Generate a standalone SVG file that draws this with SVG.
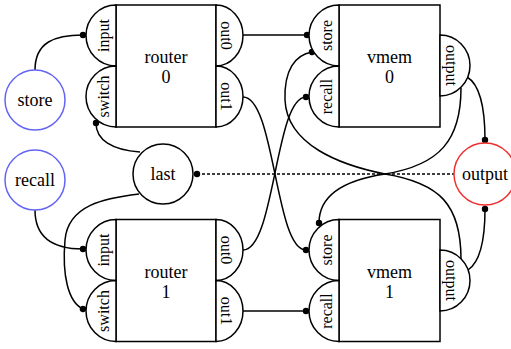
<svg xmlns="http://www.w3.org/2000/svg" width="511" height="349" viewBox="0 0 511 349">
<defs>
<style>
text{font-family:"Liberation Serif","DejaVu Serif",serif;fill:#000;text-anchor:middle}
.lbl{font-size:18px}
.plbl{font-size:16px}
.box{fill:#fff;stroke:#000;stroke-width:1.5}
.port{fill:#fff;stroke:#000;stroke-width:1.5}
.edge{fill:none;stroke:#000;stroke-width:1.5;marker-end:url(#dot)}
.dash{fill:none;stroke:#000;stroke-width:1.5;stroke-dasharray:3,2}
.in{fill:#fff;stroke:#6464f5;stroke-width:1.5}
.out{fill:#fff;stroke:#f03030;stroke-width:1.5}
.plain{fill:#fff;stroke:#000;stroke-width:1.5}
</style>
<marker id="dot" viewBox="-4 -4 8 8" markerWidth="8" markerHeight="8" markerUnits="userSpaceOnUse" refX="0" refY="0" orient="auto">
<circle cx="0" cy="0" r="3.2" fill="#000"/>
</marker>
</defs>
<rect width="511" height="349" fill="#fff"/>

<g id="connectors">
<path class="edge" d="M35,70 C35,42 55,35 83,35"/>
<path class="edge" d="M243,35 L307,35"/>
<path class="edge" d="M243,97 C275,97 275,250 306,250"/>
<path class="edge" d="M243,250 C275,250 275,97 306,97"/>
<path class="edge" d="M243,311 L306,311"/>
<path class="edge" d="M467,77 C479,84 485,105 485,140"/>
<path class="edge" d="M468,270 C480,262 485,240 485,209"/>
<path class="edge" d="M461,88 C461,140 440,165 385,174 C345,180 319,195 319,223"/>
<path class="edge" d="M461,259 C461,205 440,183 385,174 C340,165 287,145 285,100 C284,70 295,55 312,52"/>
<path class="edge" d="M140,152 C112,150 96,140 96,123"/>
<path class="edge" d="M35,210 C35,235 50,249 83,249"/>
<path class="edge" d="M139,194 C105,198 68,205 65,240 C62,275 68,302 83,309"/>
<path class="dash" d="M197,174 L454,174"/>
<circle cx="197" cy="174" r="3.2" fill="#000"/>
</g>

<g id="router0">
<rect class="box" x="116" y="5" width="100" height="122"/>
<path class="port" d="M116,5 A30,30.5 0 0 0 116,66 Z"/>
<path class="port" d="M116,66 A30,30.5 0 0 0 116,127 Z"/>
<path class="port" d="M216,5 A27,30.5 0 0 1 216,66 Z"/>
<path class="port" d="M216,66 A27,30.5 0 0 1 216,127 Z"/>
<text class="plbl" transform="translate(109,35.5) rotate(-90)">input</text>
<text class="plbl" transform="translate(109,96.5) rotate(-90)">switch</text>
<text class="plbl" transform="translate(221,35.5) rotate(90)">out0</text>
<text class="plbl" transform="translate(221,96.5) rotate(90)">out1</text>
<text class="lbl" x="166" y="63">router</text>
<text class="lbl" x="166" y="83">0</text>
</g>

<g id="router1">
<rect class="box" x="116" y="219.5" width="100" height="122"/>
<path class="port" d="M116,219.5 A30,30.5 0 0 0 116,280.5 Z"/>
<path class="port" d="M116,280.5 A30,30.5 0 0 0 116,341.5 Z"/>
<path class="port" d="M216,219.5 A27,30.5 0 0 1 216,280.5 Z"/>
<path class="port" d="M216,280.5 A27,30.5 0 0 1 216,341.5 Z"/>
<text class="plbl" transform="translate(109,250) rotate(-90)">input</text>
<text class="plbl" transform="translate(109,311) rotate(-90)">switch</text>
<text class="plbl" transform="translate(221,250) rotate(90)">out0</text>
<text class="plbl" transform="translate(221,311) rotate(90)">out1</text>
<text class="lbl" x="166" y="277.5">router</text>
<text class="lbl" x="166" y="297.5">1</text>
</g>

<g id="vmem0">
<rect class="box" x="339" y="5" width="101" height="122"/>
<path class="port" d="M339,5 A30,30.5 0 0 0 339,66 Z"/>
<path class="port" d="M339,66 A30,30.5 0 0 0 339,127 Z"/>
<path class="port" d="M440,35 A30,30.5 0 0 1 440,96 Z"/>
<text class="plbl" transform="translate(332,35.5) rotate(-90)">store</text>
<text class="plbl" transform="translate(332,96.5) rotate(-90)">recall</text>
<text class="plbl" transform="translate(446,65.5) rotate(90)">output</text>
<text class="lbl" x="389.5" y="63">vmem</text>
<text class="lbl" x="389.5" y="83">0</text>
</g>

<g id="vmem1">
<rect class="box" x="339" y="219.5" width="101" height="122"/>
<path class="port" d="M339,219.5 A30,30.5 0 0 0 339,280.5 Z"/>
<path class="port" d="M339,280.5 A30,30.5 0 0 0 339,341.5 Z"/>
<path class="port" d="M440,250 A30,30.5 0 0 1 440,311 Z"/>
<text class="plbl" transform="translate(332,250) rotate(-90)">store</text>
<text class="plbl" transform="translate(332,311) rotate(-90)">recall</text>
<text class="plbl" transform="translate(446,280.5) rotate(90)">output</text>
<text class="lbl" x="389.5" y="277.5">vmem</text>
<text class="lbl" x="389.5" y="297.5">1</text>
</g>

<g id="store">
<circle class="in" cx="35" cy="100" r="30"/>
<text class="lbl" x="35" y="106">store</text>
</g>
<g id="recall">
<circle class="in" cx="35" cy="180" r="30"/>
<text class="lbl" x="35" y="186">recall</text>
</g>
<g id="last">
<circle class="plain" cx="163" cy="174" r="30"/>
<text class="lbl" x="163" y="180">last</text>
</g>
<g id="output">
<circle class="out" cx="485" cy="174" r="31"/>
<text class="lbl" x="485" y="180">output</text>
</g>
</svg>
